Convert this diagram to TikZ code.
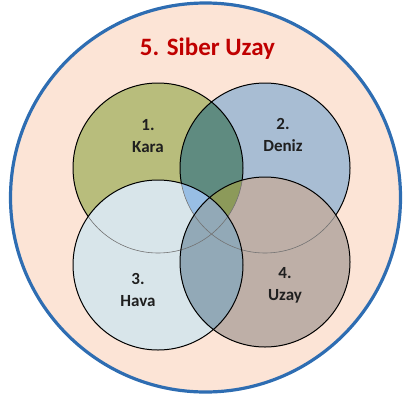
\documentclass[tikz,border=0pt]{standalone}
\usepackage{fontspec}
\setmainfont{Carlito}
\definecolor{peach}{HTML}{FCE4D6}
\definecolor{rimblue}{HTML}{2E6DB2}
\definecolor{titlered}{HTML}{C00000}
\definecolor{karafill}{HTML}{B8BD7C}
\definecolor{denizfill}{HTML}{A8BDD3}
\definecolor{havafill}{HTML}{D8E5EA}
\definecolor{uzayfill}{HTML}{BEAFA7}
\definecolor{karadeniz}{HTML}{5F8B80}
\definecolor{denizhava}{HTML}{98BEE4}
\definecolor{karauzay}{HTML}{8C9A5A}
\definecolor{havauzay}{HTML}{92A9B7}
\tikzstyle{realm}=[
	draw=black,
	line width=1pt
]
\tikzstyle{hidden realm}=[
	draw=black!55,
	line width=0.6pt
]
\tikzstyle{realmlabel}=[
	align=center,
	text=black!88,
	font=\bfseries\fontsize{17}{21.5}\selectfont
]
\tikzstyle{headline}=[
	text=titlered,
	font=\bfseries\fontsize{25}{29}\selectfont
]

\begin{document}
\begin{tikzpicture}[x=1pt,y=-1pt]
\useasboundingbox (0,0) rectangle (403,399);
\coordinate (Kara) at (158,168);
\coordinate (Deniz) at (265,168);
\coordinate (Hava) at (158,265);
\coordinate (Uzay) at (265,262);
% cyber space
\coordinate (Siber) at (205.5,197.5);
\fill[peach] (Siber) ellipse [x radius=195pt, y radius=194.5pt];
\draw[rimblue, line width=3.2pt] (Siber) ellipse [x radius=195pt, y radius=194.5pt];
% land and sea
\fill[karafill] (Kara) circle (85pt);
\fill[denizfill] (Deniz) circle (85pt);
\begin{scope}
	\clip (Kara) circle (85pt);
	\fill[karadeniz] (Deniz) circle (85pt);
\end{scope}
\draw[realm] (Kara) circle (85pt) (Deniz) circle (85pt);
% air and space
\fill[havafill] (Hava) circle (85pt);
\begin{scope}
	\clip (Deniz) circle (85pt);
	\fill[denizhava] (Hava) circle (85pt);
\end{scope}
\fill[uzayfill] (Uzay) circle (85pt);
\begin{scope}
	\clip (Kara) circle (85pt);
	\fill[karauzay] (Uzay) circle (85pt);
\end{scope}
\begin{scope}
	\clip (Hava) circle (85pt);
	\fill[havauzay] (Uzay) circle (85pt);
\end{scope}
\begin{scope}
	\clip (Hava) circle (85pt) (Uzay) circle (85pt);
	\draw[hidden realm] (Kara) circle (85pt) (Deniz) circle (85pt);
\end{scope}
\draw[realm] (Hava) circle (85pt) (Uzay) circle (85pt);
% labels
\node[headline] (title) at (207.5,49) {5. Siber Uzay};
\node[realmlabel] (karalabel) at (148,136) {1.\\Kara};
\node[realmlabel] (denizlabel) at (283,135) {2.\\Deniz};
\node[realmlabel] (havalabel) at (138,290) {3.\\Hava};
\node[realmlabel] (uzaylabel) at (285,285.5) {4.\\Uzay};
\end{tikzpicture}
\end{document}
